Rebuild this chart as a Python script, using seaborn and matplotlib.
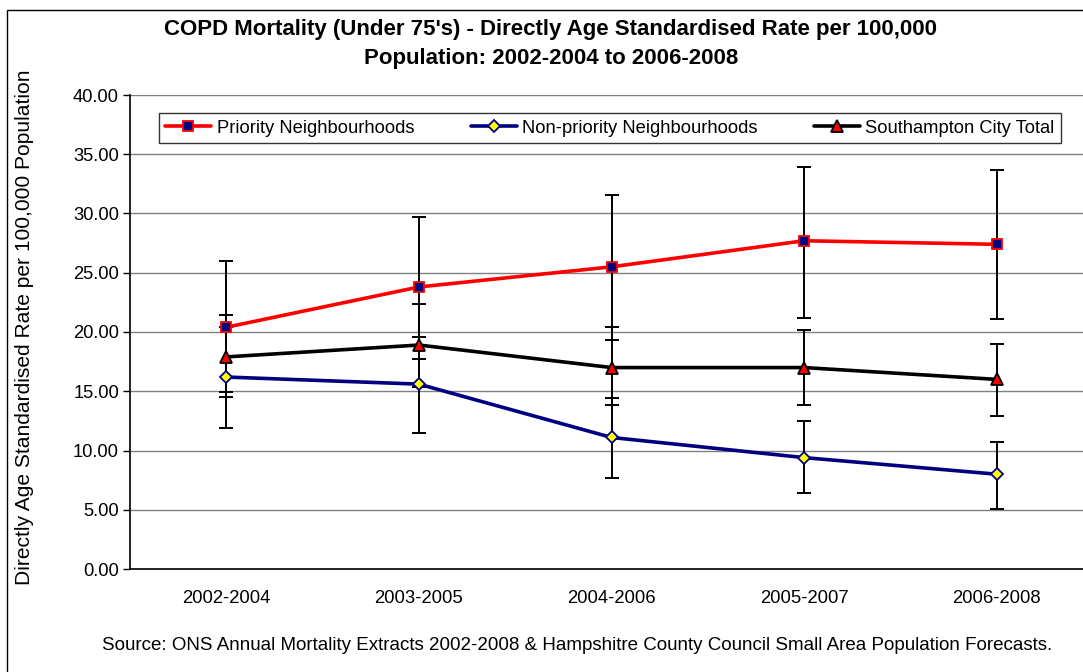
import pandas as pd
import numpy as np
import matplotlib
matplotlib.use("Agg")
import matplotlib.pyplot as plt
import seaborn as sns
from matplotlib.patches import Rectangle

# Values
periods = ['2002-2004', '2003-2005', '2004-2006', '2005-2007', '2006-2008']

priority = [20.4, 23.8, 25.5, 27.7, 27.4]
priority_lo = [14.9, 17.7, 19.3, 21.2, 21.1]
priority_hi = [26.0, 29.7, 31.6, 33.9, 33.7]

non_priority = [16.2, 15.6, 11.1, 9.4, 8.0]
non_priority_lo = [11.9, 11.5, 7.7, 6.4, 5.1]
non_priority_hi = [20.4, 19.6, 14.4, 12.5, 10.7]

city = [17.9, 18.9, 17.0, 17.0, 16.0]
city_lo = [14.5, 15.4, 13.8, 13.8, 12.9]
city_hi = [21.4, 22.4, 20.4, 20.2, 19.0]

y_ticks = [0, 5, 10, 15, 20, 25, 30, 35, 40]

sns.set_style("white")
plt.rcParams['font.family'] = ['Liberation Sans', 'DejaVu Sans']
plt.rcParams['text.color'] = 'black'
plt.rcParams['xtick.color'] = 'black'
plt.rcParams['ytick.color'] = 'black'

fig = plt.figure(figsize=(10.83, 6.72), dpi=100)
W, H = 1083, 672
ax = fig.add_axes([130 / W, (H - 569) / H, 963 / W, 474 / H])

df = pd.DataFrame({'Period': periods * 3,
                   'Rate': priority + non_priority + city,
                   'Lo': priority_lo + non_priority_lo + city_lo,
                   'Hi': priority_hi + non_priority_hi + city_hi,
                   'Series': ['Priority Neighbourhoods'] * 5
                   + ['Non-priority Neighbourhoods'] * 5
                   + ['Southampton City Total'] * 5})

styles = {
    'Priority Neighbourhoods': dict(color='#FF0000', marker='s', markerfacecolor='#000080',
                                    markeredgecolor='#FF0000', markersize=7.5),
    'Non-priority Neighbourhoods': dict(color='#000080', marker='D', markerfacecolor='#FFFF00',
                                        markeredgecolor='#000080', markersize=6),
    'Southampton City Total': dict(color='#000000', marker='^', markerfacecolor='#FF0000',
                                   markeredgecolor='#000000', markersize=8.5),
}

# error bars first so the lines sit on top
for name, sub in df.groupby('Series', sort=False):
    yerr = [sub['Rate'] - sub['Lo'], sub['Hi'] - sub['Rate']]
    ax.errorbar(sub['Period'], sub['Rate'], yerr=yerr, fmt='none', ecolor='black',
                elinewidth=1.4, capsize=5, capthick=1.4, zorder=2)

for name, sub in df.groupby('Series', sort=False):
    sns.lineplot(data=sub, x='Period', y='Rate', ax=ax, sort=False, linewidth=2.6,
                 markeredgewidth=1.3, label=name, zorder=3, **styles[name])

ax.set_xlim(-0.5, len(periods) - 0.5)
ax.set_ylim(0, 40)
ax.set_yticks(y_ticks)
ax.set_yticklabels(['%.2f' % v for v in y_ticks])
ax.yaxis.grid(True, color='#808080', linewidth=1)
ax.set_axisbelow(True)
ax.set_xlabel('')
ax.set_ylabel('')

ax.set_xticks(np.arange(len(periods)))
ax.set_xticklabels(periods)
ax.set_xticks(np.arange(len(periods) + 1) - 0.5, minor=True)
ax.tick_params(axis='x', which='major', length=0, pad=15, labelsize=13.3)
ax.tick_params(axis='x', which='minor', length=4, width=1, color='black', direction='out')
ax.tick_params(axis='y', which='major', length=5, width=1, color='black', direction='out',
               pad=3, labelsize=13.2, left=True)

for s in ['top', 'right']:
    ax.spines[s].set_visible(False)
for s in ['left', 'bottom']:
    ax.spines[s].set_color('black')
    ax.spines[s].set_linewidth(1.2)

leg = ax.legend(loc='lower left', ncol=3, mode='expand', frameon=True, fontsize=13.2,
                bbox_to_anchor=(159 / W, 1 - 143 / H, 902 / W, 35 / H),
                bbox_transform=fig.transFigure, handlelength=2.5, handletextpad=0.3,
                borderaxespad=0, borderpad=0.35, fancybox=False)
leg.get_frame().set_edgecolor('black')
leg.get_frame().set_linewidth(1)

fig.text(551 / W, 1 - 44 / H,
         "COPD Mortality (Under 75's) - Directly Age Standardised Rate per 100,000\n"
         "Population: 2002-2004 to 2006-2008",
         ha='center', va='center', fontsize=16, fontweight='bold', linespacing=1.45)
fig.text(25 / W, 1 - 327 / H, 'Directly Age Standardised Rate per 100,000 Population',
         rotation=90, ha='center', va='center', fontsize=15.1)
fig.text(577 / W, 1 - 645 / H,
         'Source: ONS Annual Mortality Extracts 2002-2008 & Hampshitre County Council '
         'Small Area Population Forecasts.',
         ha='center', va='center', fontsize=13.5)

# chart frame (only top and left edges fall inside the picture)
fig.patches.append(Rectangle((7 / W, -0.5), 2, 1 - 10 / H + 0.5, transform=fig.transFigure,
                             fill=False, edgecolor='black', linewidth=1))

fig.savefig('out.png', dpi=100)
